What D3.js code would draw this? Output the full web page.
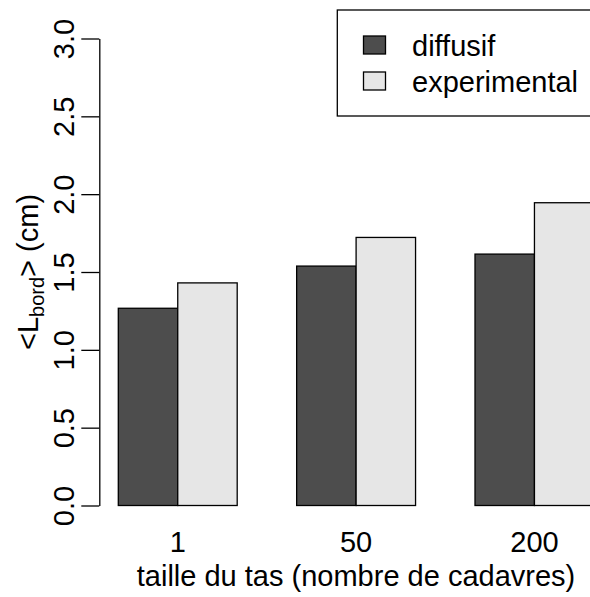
<!DOCTYPE html>
<html>
<head>
<meta charset="utf-8">
<script src="https://cdn.jsdelivr.net/npm/d3@7"></script>
<style>
  body { margin: 0; background: #fff; }
  svg { display: block; font-family: "Liberation Sans", Arial, Helvetica, sans-serif; }
</style>
</head>
<body>
<svg id="drawing_region"></svg>
<script>
// data
const groups = ['1', '50', '200'];
const series = ['diffusif', 'experimental'];
const diffusif = [1.267, 1.538, 1.615];
const experimental = [1.430, 1.722, 1.945];
const yTicks = [0, 0.5, 1, 1.5, 2, 2.5, 3];
const colors = ['#4D4D4D', '#E6E6E6'];

const config = {
    width: 590,
    height: 597,
    fontSize: 29,
};

const svg = d3.select('#drawing_region')
    .attr('width', config.width)
    .attr('height', config.height);

// one bar width = 59.45 px, group = 2 bars + 1 space
const unit = 59.45;
const firstBar = 118.3;

const yscale = d3.scaleLinear()
    .domain([0, 3])
    .range([505.5, 38.5]);

const x0 = d3.scaleBand()
    .domain(groups)
    .range([firstBar - 0.5 * unit, firstBar + 8.5 * unit])
    .paddingInner(1 / 3)
    .paddingOuter(1 / 6);

const x1 = d3.scaleBand()
    .domain(series)
    .range([0, x0.bandwidth()]);

const values = { diffusif: diffusif, experimental: experimental };
const color = d3.scaleOrdinal().domain(series).range(colors);

// bars
const g = svg.append('g');
groups.forEach((grp, i) => {
    g.selectAll(null)
        .data(series)
        .enter()
        .append('rect')
        .attr('x', s => x0(grp) + x1(s))
        .attr('y', s => yscale(values[s][i]))
        .attr('width', x1.bandwidth())
        .attr('height', s => yscale(0) - yscale(values[s][i]))
        .attr('fill', s => color(s))
        .attr('stroke', '#000')
        .attr('stroke-width', 1.3);
});

// y axis
const yaxis = d3.axisLeft(yscale)
    .tickValues(yTicks)
    .tickFormat(d3.format('.1f'))
    .tickSize(18)
    .tickSizeOuter(0);

const yaxis_group = svg.append('g')
    .attr('transform', 'translate(99.3,0)')
    .call(yaxis);
yaxis_group.select('.domain').attr('stroke-width', 1.3);
yaxis_group.selectAll('.tick line').attr('stroke-width', 1.3);
yaxis_group.selectAll('.tick text')
    .attr('font-size', config.fontSize)
    .attr('font-family', null)
    .attr('fill', '#000')
    .attr('x', null).attr('dy', null)
    .attr('text-anchor', 'middle')
    .attr('transform', 'translate(-25,0) rotate(-90)');

// x labels (no axis line)
const xaxis = d3.axisBottom(x0).tickSize(0);
const xaxis_group = svg.append('g')
    .attr('transform', 'translate(0,530)')
    .call(xaxis);
xaxis_group.select('.domain').remove();
xaxis_group.selectAll('.tick text')
    .attr('font-size', config.fontSize)
    .attr('font-family', null)
    .attr('fill', '#000')
    .attr('y', 21.5).attr('dy', null);

// axis titles
svg.append('text')
    .attr('x', 356)
    .attr('y', 586)
    .attr('text-anchor', 'middle')
    .attr('font-size', config.fontSize)
    .text('taille du tas (nombre de cadavres)');

const ylab = svg.append('text')
    .attr('transform', 'translate(38,272) rotate(-90)')
    .attr('text-anchor', 'middle')
    .attr('font-size', config.fontSize);
ylab.append('tspan').text('<L');
ylab.append('tspan').attr('dy', 6).attr('font-size', 20).text('bord');
ylab.append('tspan').attr('dy', -6).text('> (cm)');

// legend
const legend = svg.append('g');
legend.append('rect')
    .attr('x', 337.3).attr('y', 10)
    .attr('width', 300).attr('height', 106)
    .attr('fill', 'none')
    .attr('stroke', '#000')
    .attr('stroke-width', 1.3);

const item = legend.selectAll('g.item')
    .data(series)
    .enter()
    .append('g')
    .attr('class', 'item')
    .attr('transform', (d, i) => `translate(0,${45 + i * 36})`);
item.append('rect')
    .attr('x', 363.5).attr('y', -9)
    .attr('width', 22).attr('height', 18)
    .attr('fill', d => color(d))
    .attr('stroke', '#000')
    .attr('stroke-width', 1.3);
item.append('text')
    .attr('x', 412)
    .attr('y', 10.5)
    .attr('font-size', config.fontSize)
    .text(d => d);
</script>
</body>
</html>
